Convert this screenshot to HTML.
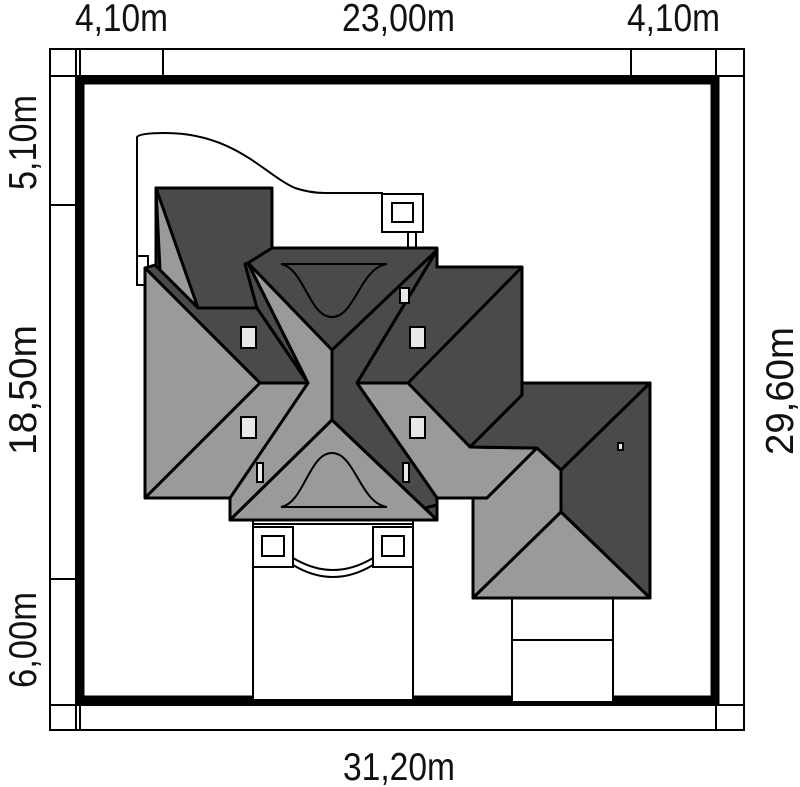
<!DOCTYPE html>
<html><head><meta charset="utf-8"><style>
html,body{margin:0;padding:0;background:#fff}
svg{display:block}
text{font-family:"Liberation Sans",sans-serif;font-size:39px;fill:#111}
</style></head><body>
<svg width="800" height="787" viewBox="0 0 800 787" xmlns="http://www.w3.org/2000/svg">
<g stroke="#000" stroke-width="2" fill="none">
<rect x="50" y="49" width="694" height="681"/>
<line x1="50" y1="76" x2="744" y2="76"/>
<line x1="50" y1="705" x2="744" y2="705"/>
<line x1="76" y1="49" x2="76" y2="730"/>
<line x1="716" y1="49" x2="716" y2="730"/>
<line x1="80" y1="49" x2="80" y2="80"/>
<line x1="163" y1="49" x2="163" y2="80"/>
<line x1="631" y1="49" x2="631" y2="80"/>
<line x1="50" y1="205" x2="80" y2="205"/>
<line x1="50" y1="579" x2="80" y2="579"/>
<line x1="80" y1="700" x2="80" y2="730"/>
</g>
<rect x="80" y="80" width="635" height="620" fill="none" stroke="#000" stroke-width="9"/>
<text x="75" y="31" textLength="93" lengthAdjust="spacingAndGlyphs">4,10m</text>
<text x="342" y="31" textLength="113" lengthAdjust="spacingAndGlyphs">23,00m</text>
<text x="627" y="31" textLength="93" lengthAdjust="spacingAndGlyphs">4,10m</text>
<text x="343" y="780" textLength="112" lengthAdjust="spacingAndGlyphs">31,20m</text>
<text transform="translate(36,190) rotate(-90)" textLength="95" lengthAdjust="spacingAndGlyphs">5,10m</text>
<text transform="translate(36,455) rotate(-90)" textLength="130" lengthAdjust="spacingAndGlyphs">18,50m</text>
<text transform="translate(36,688) rotate(-90)" textLength="96" lengthAdjust="spacingAndGlyphs">6,00m</text>
<text transform="translate(793,455) rotate(-90)" textLength="128" lengthAdjust="spacingAndGlyphs">29,60m</text>

<g stroke="#000" stroke-width="2" fill="none">
<path d="M137,285 L137,137 Q140,133 165,133 C235,133 265,175 295,188 Q310,193 325,193 L383,193"/>
<rect x="137" y="256" width="11" height="29" fill="#fff"/>
<rect x="382" y="194" width="41" height="38" fill="#fff"/>
<rect x="392" y="203" width="21" height="19"/>
<rect x="408" y="232" width="8" height="16" fill="#fff"/>
</g>
<g stroke="#000" stroke-width="2" fill="#fff">
<rect x="253" y="520" width="160" height="180"/>
<line x1="253" y1="524" x2="413" y2="524"/>
<rect x="253" y="527" width="40" height="40"/>
<rect x="262" y="536" width="22" height="20"/>
<rect x="373" y="527" width="40" height="40"/>
<rect x="382" y="536" width="22" height="20"/>
<path d="M293,558 Q333,582 373,558" fill="none"/>
<path d="M293,565 Q333,589 373,565" fill="none"/>
<rect x="512" y="598" width="101" height="104"/>
<line x1="512" y1="640" x2="613" y2="640"/>
</g>

<g stroke="#000" stroke-width="3" stroke-linejoin="round">
<polygon fill="#4a4a4a" points="156,188 272,188 272,255 245,264 257,308 198,308 156,268"/>
<polygon fill="#9a9a9a" points="156,188 198,308 160,270"/>
<polygon fill="#4a4a4a" points="145,268 155,265 198,308 257,308 308,383 260,383"/>
<polygon fill="#4a4a4a" points="245,264 257,308 308,383 248,263"/>
<polygon fill="#9a9a9a" points="145,268 260,383 145,498"/>
<polygon fill="#9a9a9a" points="145,498 260,383 308,383 232,498"/>
<polygon fill="#4a4a4a" points="248,263 272,248 437,248 437,262 332,350"/>
<polygon fill="#9a9a9a" points="248,263 332,350 332,420 230,520 230,498 308,383"/>
<polygon fill="#4a4a4a" points="437,267 522,267 522,395 470,447 408,383 357,383 437,250"/>
<line x1="522" y1="267" x2="408" y2="383"/>
<polygon fill="#9a9a9a" points="357,383 408,383 470,447 537,448 487,498 437,498"/>
<polygon fill="#4a4a4a" points="437,250 332,350 332,420 437,520 437,498 357,383"/>
<polygon fill="#9a9a9a" points="332,420 230,520 437,520"/>
<polygon fill="#4a4a4a" points="437,505 437,520 425,508"/>
<polygon fill="#9a9a9a" points="473,498 487,498 537,448 561,470 561,512 473,598"/>
<polygon fill="#4a4a4a" points="522,383 650,383 561,470 537,448 470,447 522,395"/>
<polygon fill="#4a4a4a" points="650,383 650,598 561,512 561,470"/>
<polygon fill="#9a9a9a" points="473,598 561,512 650,598"/>
</g>
<g stroke="#000" stroke-width="2">
<path fill="#4a4a4a" d="M281,264 L387,264 C360,268 355,317 332,317 C309,317 304,268 281,264 Z"/>
<path fill="#9a9a9a" d="M281,507 L387,507 C360,503 355,453 332,453 C309,453 304,503 281,507 Z"/>
</g>
<g stroke="#000" stroke-width="2" fill="#e8e8e8">
<rect x="241" y="327" width="15" height="21"/>
<rect x="241" y="417" width="15" height="21"/>
<rect x="410" y="327" width="15" height="21"/>
<rect x="410" y="417" width="15" height="21"/>
<rect x="400" y="288" width="9" height="15"/>
<rect x="257" y="463" width="6" height="19"/>
<rect x="403" y="463" width="6" height="19"/>
<rect x="618" y="443" width="5" height="7"/>
</g>
</svg>
</body></html>
